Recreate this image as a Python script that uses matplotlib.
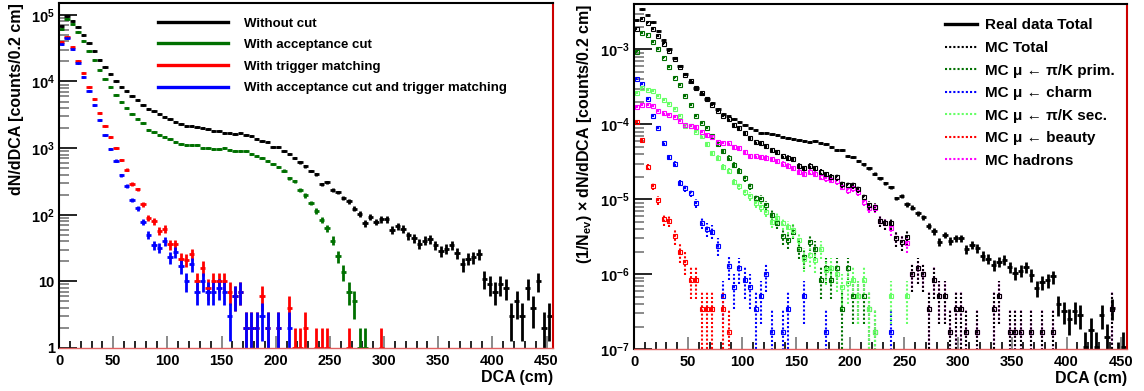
import numpy as np
import matplotlib
matplotlib.use('Agg')
import matplotlib.pyplot as plt
from matplotlib.lines import Line2D
from matplotlib.ticker import MultipleLocator, LogLocator, FuncFormatter, NullFormatter

plt.rcParams['font.family'] = ['Liberation Sans', 'DejaVu Sans']
plt.rcParams['font.weight'] = 'bold'
plt.rcParams['mathtext.fontset'] = 'custom'
plt.rcParams['mathtext.rm'] = 'Liberation Sans:bold'
plt.rcParams['mathtext.bf'] = 'Liberation Sans:bold'
plt.rcParams['mathtext.it'] = 'Liberation Sans:italic:bold'

# bin centres, 5 cm bins from 0 to 455 cm
dca = np.arange(2.5, 455, 5.0)

# ---- left panel: counts per bin ----
without_cut = [68000, 96000, 80000, 65000, 49500, 37500, 28400, 21300, 16500, 13000,
               10300, 8400, 7100, 6100, 5300, 4500, 3800, 3550, 3240, 2960,
               2730, 2460, 2310, 2150, 2150, 2050, 2000, 1910, 1830, 1780,
               1700, 1660, 1620, 1660, 1580, 1510, 1380, 1260, 1250, 1050,
               1030, 910, 810, 720, 612, 532, 452, 403, 285, 305,
               237, 216, 180, 160, 123, 104, 75, 93, 78, 85,
               85, 60, 68, 62, 49, 45, 37, 41, 43, 35,
               29, 31, 35, 27, 18, 22, 23, 26, 11, 9,
               7, 9, 8, 3, 5, 3, 8, 4, 10, 2,
               3]
acceptance = [62000, 88000, 72000, 55500, 41000, 29000, 21000, 15000, 11000, 8200,
              6300, 4900, 4000, 3270, 2750, 2370, 1880, 1720, 1570, 1460,
              1360, 1245, 1160, 1120, 1110, 1100, 1010, 1010, 980, 980,
              990, 945, 920, 920, 890, 820, 760, 715, 640, 580,
              520, 460, 355, 316, 237, 195, 150, 114, 84, 63,
              41, 24, 14, 7, 5, 1, 1] + [0] * 34
trigger = [39000, 47000, 33000, 20500, 13300, 8200, 5400, 3400, 2160, 1460,
           1010, 660, 473, 290, 240, 143, 90, 80, 57, 62,
           36, 36, 22, 21, 26, 10, 16, 8, 10, 10,
           10, 7, 6, 7, 2, 2, 2, 6, 2, 0,
           2, 0, 4, 1, 1, 2, 0, 1, 1, 1,
           0, 0, 0, 1, 0, 0, 0, 0, 0, 1] + [0] * 31
acc_trigger = [37000, 44500, 30500, 19000, 11800, 7300, 4400, 2600, 1560, 960,
               650, 390, 270, 168, 125, 78, 50, 35, 32, 40,
               23, 28, 17, 10, 18, 7, 10, 7, 7, 8,
               7, 3, 6, 7, 2, 2, 2, 3, 2, 0,
               2, 0, 2] + [0] * 48

# ---- right panel: per event ----
n_ev = 2.78e7          # real data = without_cut / N_ev
mc_weight = 1.7e-7     # one MC entry per event
mc_total = [1.87e-3, 2.55e-3, 2.27e-3, 1.85e-3, 1.49e-3, 1.19e-3, 9.4e-4, 7.4e-4, 5.9e-4, 4.5e-4,
            3.8e-4, 3.1e-4, 2.6e-4, 2.2e-4, 1.83e-4, 1.52e-4, 1.29e-4, 1.17e-4, 9.7e-5, 8.9e-5,
            7.6e-5, 6.5e-5, 5.8e-5, 5.6e-5, 5.2e-5, 4.5e-5, 4.3e-5, 3.8e-5, 3.6e-5, 3.4e-5,
            2.8e-5, 2.6e-5, 2.8e-5, 2.6e-5, 2.3e-5, 2.15e-5, 2.0e-5, 1.96e-5, 1.58e-5, 1.53e-5,
            1.54e-5, 1.36e-5, 1.07e-5, 8.3e-6, 7.9e-6, 5.2e-6, 4.8e-6, 4.8e-6, 3.0e-6, 2.7e-6,
            3.1e-6, 1.0e-6, 1.2e-6, 1.0e-6, 3.4e-7, 8.5e-7, 5.1e-7, 5.1e-7, 1.7e-7, 3.4e-7,
            3.4e-7, 1.7e-7, 0, 1.7e-7, 0, 0, 3.4e-7, 5.1e-7, 0, 1.7e-7,
            1.7e-7, 1.7e-7, 0, 1.7e-7, 0, 1.7e-7, 0, 1.7e-7, 0, 0,
            0, 0, 0, 0, 0, 0, 0, 0, 3.4e-7] + [0] * 2
pk_prim = [9.3e-4, 1.65e-3, 1.55e-3, 1.25e-3, 1.0e-3, 7.8e-4, 5.8e-4, 4.2e-4, 3.3e-4, 2.4e-4,
           1.8e-4, 1.3e-4, 1.05e-4, 9.0e-5, 7.0e-5, 5.5e-5, 4.4e-5, 3.6e-5, 2.9e-5, 2.4e-5,
           1.9e-5, 1.5e-5, 1.05e-5, 1.0e-5, 8.3e-6, 6.2e-6, 4.9e-6, 3.2e-6, 2.9e-6, 3.7e-6,
           2.2e-6, 1.7e-6, 2.7e-6, 2.2e-6, 8.5e-7, 1.2e-6, 8.5e-7, 1.2e-6, 3.4e-7, 1.2e-6,
           5.1e-7, 5.1e-7, 5.1e-7, 3.4e-7, 1.7e-7] + [0] * 46
charm = [4.0e-4, 3.5e-4, 2.2e-4, 1.3e-4, 9.0e-5, 5.6e-5, 3.7e-5, 3.0e-5, 1.66e-5, 1.42e-5,
         1.23e-5, 8.8e-6, 4.9e-6, 4.0e-6, 3.7e-6, 2.4e-6, 5.1e-7, 1.3e-6, 6.8e-7, 1.2e-6,
         8.5e-7, 6.8e-7, 3.4e-7, 5.1e-7, 1.0e-6, 1.7e-7, 0, 1.7e-7, 3.4e-7, 0,
         0, 5.1e-7, 0, 0, 0, 1.7e-7, 0, 0, 0, 0,
         0, 0, 0, 0, 0, 0, 0, 1.7e-7] + [0] * 43
pk_sec = [2.6e-4, 3.1e-4, 2.9e-4, 2.75e-4, 2.4e-4, 2.1e-4, 1.85e-4, 1.6e-4, 1.3e-4, 9.5e-5,
          9.6e-5, 8.0e-5, 6.9e-5, 5.5e-5, 4.1e-5, 3.6e-5, 2.7e-5, 2.4e-5, 1.7e-5, 1.5e-5,
          1.27e-5, 1.1e-5, 8.9e-6, 8.0e-6, 6.8e-6, 5.0e-6, 5.6e-6, 4.8e-6, 4.3e-6, 3.9e-6,
          2.9e-6, 1.6e-6, 1.8e-6, 1.55e-6, 2.2e-6, 1.15e-6, 1.2e-6, 1.0e-6, 6.8e-7, 7.6e-7,
          8.5e-7, 5.1e-7, 8.5e-7, 3.4e-7, 1.7e-7, 0, 0, 5.1e-7, 0, 0,
          5.1e-7] + [0] * 40
beauty = [1.08e-4, 6.2e-5, 2.7e-5, 1.5e-5, 9.7e-6, 5.4e-6, 5.2e-6, 3.2e-6, 2.0e-6, 1.47e-6,
          8.5e-7, 8.5e-7, 3.4e-7, 3.4e-7, 3.4e-7, 0, 3.4e-7, 1.7e-7] + [0] * 73
hadrons = [1.7e-4, 1.8e-4, 1.8e-4, 1.75e-4, 1.5e-4, 1.4e-4, 1.35e-4, 1.25e-4, 1.12e-4, 9.8e-5,
           9.5e-5, 9.1e-5, 8.0e-5, 7.2e-5, 6.8e-5, 5.9e-5, 5.7e-5, 5.6e-5, 5.0e-5, 4.9e-5,
           4.3e-5, 3.8e-5, 3.8e-5, 3.7e-5, 3.6e-5, 3.4e-5, 3.2e-5, 3.0e-5, 2.8e-5, 2.6e-5,
           2.3e-5, 2.2e-5, 2.3e-5, 2.2e-5, 2.0e-5, 1.9e-5, 1.8e-5, 1.74e-5, 1.48e-5, 1.33e-5,
           1.4e-5, 1.26e-5, 9.3e-6, 7.6e-6, 7.6e-6, 5.2e-6, 4.8e-6, 4.1e-6, 3.0e-6, 2.7e-6,
           2.6e-6, 1.0e-6, 1.2e-6, 1.0e-6, 3.4e-7, 8.5e-7, 5.1e-7, 5.1e-7, 1.7e-7, 3.4e-7,
           3.4e-7, 1.7e-7, 0, 1.7e-7, 0, 0, 3.4e-7, 5.1e-7, 0, 1.7e-7,
           1.7e-7, 1.7e-7, 0, 1.7e-7, 0, 1.7e-7, 0, 1.7e-7, 0, 0,
           0, 0, 0, 0, 0, 0, 0, 0, 3.4e-7] + [0] * 2

left_labels = ['Without cut', 'With acceptance cut', 'With trigger matching',
               'With acceptance cut and trigger matching']
left_colors = ['black', '#007000', '#ff0000', '#0000ff']
right_labels = ['Real data Total', 'MC Total', 'MC μ ← π/K prim.', 'MC μ ← charm',
                'MC μ ← π/K sec.', 'MC μ ← beauty', 'MC hadrons']
right_colors = ['black', 'black', '#007000', '#0000ff', '#66ff66', '#ff0000', '#ff00ff']


def draw_data(ax, y, color, scale=1.0):
    y = np.asarray(y, float)
    m = y > 0
    err = np.sqrt(y[m]) * scale
    v = y[m] * scale
    lo = np.minimum(err, v * 0.999)
    ax.errorbar(dca[m], v, xerr=2.5, yerr=[lo, err], fmt='o', ms=2.2, color=color,
                ecolor=color, elinewidth=2.0, capsize=0, mew=0)


def draw_mc(ax, y, color):
    y = np.asarray(y, float)
    m = y > 0
    v = y[m]
    err = np.sqrt(v * mc_weight)
    lo = np.minimum(err, v * 0.999)
    eb = ax.errorbar(dca[m], v, xerr=1.2, yerr=[lo, err], fmt='s', ms=2.4, mfc='none',
                     mec=color, mew=0.8, ecolor=color, elinewidth=1.5, capsize=0)
    for lc in eb[2]:
        lc.set_linestyle((0, (1, 1)))


def style_axes(ax):
    ax.set_yscale('log')
    ax.set_xlim(0, 456)
    ax.xaxis.set_major_locator(MultipleLocator(50))
    ax.xaxis.set_minor_locator(MultipleLocator(10))
    ax.yaxis.set_major_locator(LogLocator(base=10))
    ax.yaxis.set_minor_locator(LogLocator(base=10, subs=np.arange(2, 10)))
    ax.yaxis.set_minor_formatter(NullFormatter())
    ax.tick_params(which='both', direction='in', top=False, right=False,
                   labelsize=10.5, width=1.2)
    ax.tick_params(axis='x', which='major', length=9, color='#777777', pad=4)
    ax.tick_params(axis='x', which='minor', length=5, color='black')
    ax.tick_params(axis='y', which='major', length=13, color='black', pad=3)
    ax.tick_params(axis='y', which='minor', length=7, color='#777777')
    for s in ('left', 'top'):
        ax.spines[s].set_color('black')
        ax.spines[s].set_linewidth(1.5)
    ax.spines['right'].set_color('#cc0000')
    ax.spines['right'].set_linewidth(1.5)
    ax.spines['bottom'].set_color('#e06060')
    ax.spines['bottom'].set_linewidth(1.0)
    ax.set_xlabel('DCA (cm)', fontsize=11.5, fontweight='bold', loc='right')
    ax.xaxis.set_label_coords(1.0, -0.063)


def left_fmt(v, pos):
    e = int(round(np.log10(v)))
    if e == 0:
        return '1'
    if e == 1:
        return '10'
    return r'$10^{%d}$' % e


def right_fmt(v, pos):
    return r'$10^{%d}$' % int(round(np.log10(v)))


fig = plt.figure(figsize=(11.44, 3.91), dpi=100)
ax1 = fig.add_axes([0.0516, 0.110, 0.4318, 0.882])
ax2 = fig.add_axes([0.5542, 0.107, 0.4310, 0.882])

# left panel
for y, c in zip([without_cut, acceptance, trigger, acc_trigger], left_colors):
    draw_data(ax1, y, c)
style_axes(ax1)
ax1.set_ylim(1, 1.5e5)
ax1.yaxis.set_major_formatter(FuncFormatter(left_fmt))
ax1.set_ylabel('dN/dDCA [counts/0.2 cm]', fontsize=11.5, fontweight='bold', loc='top')
ax1.yaxis.set_label_coords(-0.07, 1.0)
h1 = [Line2D([0], [0], color=c, lw=2.4) for c in left_colors]
ax1.legend(h1, left_labels, loc='upper left', bbox_to_anchor=(0.2, 0.959), frameon=False,
           prop={'size': 9.5, 'weight': 'bold'}, handlelength=5.3, handletextpad=1.2,
           labelspacing=0.71, borderpad=0, borderaxespad=0)

# right panel
for y, c in zip([pk_prim, charm, pk_sec, beauty, hadrons, mc_total], right_colors[2:] + ['black']):
    draw_mc(ax2, y, c)
draw_data(ax2, without_cut, 'black', scale=1.0 / n_ev)
style_axes(ax2)
ax2.set_ylim(1e-7, 4e-3)
ax2.yaxis.set_major_formatter(FuncFormatter(right_fmt))
ax2.set_ylabel(r'(1/N$_{\mathregular{ev}}$) × dN/dDCA [counts/0.2 cm]', fontsize=11.5,
               fontweight='bold', loc='top')
ax2.yaxis.set_label_coords(-0.082, 1.0)
h2 = [Line2D([0], [0], color='black', lw=2.4)] + \
     [Line2D([0], [0], color=c, lw=1.5, ls=(0, (1, 1))) for c in right_colors[1:]]
ax2.legend(h2, right_labels, loc='upper left', bbox_to_anchor=(0.631, 0.959), frameon=False,
           prop={'size': 11, 'weight': 'bold'}, handlelength=2.1, handletextpad=0.52,
           labelspacing=0.56, borderpad=0, borderaxespad=0)

fig.savefig('out.png', dpi=100)
